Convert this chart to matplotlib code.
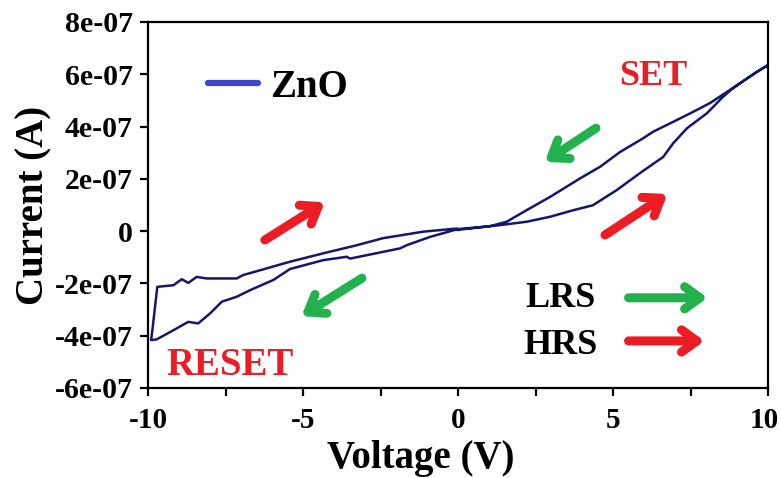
import matplotlib
matplotlib.use("Agg")
import matplotlib.pyplot as plt
from matplotlib.lines import Line2D
from matplotlib.transforms import ScaledTranslation

plt.rcParams['font.family'] = ['Liberation Serif', 'DejaVu Serif']
plt.rcParams['font.weight'] = 'bold'

SCALE = 1e-7
# HRS branch, positive sweep 0 -> 10 V (current in units of 1e-7 A)
v_hrs_pos = [0, 0.6, 1.35, 2.22, 2.97, 3.72, 4.35, 5.12, 5.87, 6.62, 6.94, 7.39, 8.03, 8.55, 8.8, 9.1, 9.65, 10]
i_hrs_pos = [0.05, 0.13, 0.23, 0.36, 0.55, 0.80, 0.99, 1.57, 2.22, 2.84, 3.36, 3.94, 4.51, 5.14, 5.4, 5.66, 6.1, 6.35]
# LRS branch, 10 -> 0 V
v_lrs_pos = [10, 9.65, 9.1, 8.68, 8.13, 7.58, 6.94, 6.29, 5.97, 5.23, 4.58, 3.94, 2.97, 2.21, 1.57, 1.03, 0.5, 0]
i_lrs_pos = [6.35, 6.1, 5.66, 5.33, 4.9, 4.56, 4.18, 3.80, 3.55, 3.03, 2.46, 2.02, 1.31, 0.80, 0.36, 0.19, 0.13, 0.08]
# LRS branch, 0 -> -10 V
v_lrs_neg = [0, -0.9, -1.66, -1.87, -3.48, -3.59, -4.35, -5.42, -5.96, -6.71, -7.14, -7.62, -8.0, -8.38, -8.7, -9.18, -9.72, -9.9]
i_lrs_neg = [0.08, -0.22, -0.54, -0.66, -1.05, -0.98, -1.11, -1.45, -1.87, -2.26, -2.51, -2.7, -3.15, -3.53, -3.47, -3.79, -4.14, -4.17]
# HRS branch, -10 -> 0 V
v_hrs_neg = [-9.9, -9.85, -9.7, -9.18, -8.91, -8.7, -8.43, -8.11, -7.14, -6.93, -5.42, -4.35, -3.27, -2.42, -1.12, -0.04, 0]
i_hrs_neg = [-4.17, -3.7, -2.13, -2.07, -1.84, -1.98, -1.75, -1.81, -1.81, -1.68, -1.17, -0.85, -0.54, -0.27, -0.02, 0.10, 0.05]

x_ticks = [-10, -7.5, -5, -2.5, 0, 2.5, 5, 7.5, 10]
x_tick_labels = ['-10', '', '-5', '', '0', '', '5', '', '10']
y_ticks = [-6, -4, -2, 0, 2, 4, 6, 8]
y_tick_labels = ['-6e-07', '-4e-07', '-2e-07', '0', '2e-07', '4e-07', '6e-07', '8e-07']

curve_color = '#15166e'
legend_color = '#3f44c8'
red = '#ec1c24'
green = '#22b14c'

fig = plt.figure(figsize=(7.81, 4.78), dpi=100)
ax = fig.add_axes([0.1895, 0.1883, 0.7939, 0.7657])

v_all = v_hrs_pos + v_lrs_pos + v_lrs_neg + v_hrs_neg
i_all = [c * SCALE for c in (i_hrs_pos + i_lrs_pos + i_lrs_neg + i_hrs_neg)]
ax.plot(v_all, i_all, color=curve_color, lw=1.8, solid_joinstyle='round')

ax.set_xlim(-10, 10)
ax.set_ylim(-6e-7, 8e-7)
ax.set_xticks(x_ticks)
ax.set_xticklabels(x_tick_labels)
ax.set_yticks([t * SCALE for t in y_ticks])
ax.set_yticklabels(y_tick_labels)
for s in ax.spines.values():
    s.set_linewidth(1.6)
ax.tick_params(direction='out', length=6, width=1.6)
ax.tick_params(axis='y', pad=5, labelsize=21.5)
ax.tick_params(axis='x', pad=8, labelsize=21)
for lab in ax.get_xticklabels() + ax.get_yticklabels():
    lab.set_fontweight('bold')
# keep the last x tick label inside the canvas
last = ax.get_xticklabels()[-1]
last.set_transform(last.get_transform() + ScaledTranslation(-4 / 100, 0, fig.dpi_scale_trans))

ax.set_xlabel('Voltage (V)', fontsize=28, fontweight='bold', labelpad=0)
ax.xaxis.set_label_coords(0.44, -0.143)
ax.set_ylabel('Current (A)', fontsize=28, fontweight='bold', labelpad=2)

handle = Line2D([], [], color=legend_color, lw=4.5, solid_capstyle='round')
leg = ax.legend([handle], ['ZnO'], loc='upper left', bbox_to_anchor=(0.04, 0.968),
                frameon=False, handlelength=1.3, handletextpad=0.3,
                prop={'size': 28, 'weight': 'bold'})

ax.text(6.3, 5.9e-7, 'SET', color=red, fontsize=26, fontweight='bold', ha='center', va='center')
ax.text(-7.35, -5.13e-7, 'RESET', color=red, fontsize=28, fontweight='bold', ha='center', va='center')
ax.text(3.3, -2.56e-7, 'LRS', color='black', fontsize=26, fontweight='bold', ha='center', va='center')
ax.text(3.3, -4.36e-7, 'HRS', color='black', fontsize=26, fontweight='bold', ha='center', va='center')

arrows = [
    ((4.45, 3.94e-7), (2.8, 2.65e-7), green),
    ((-6.23, -0.34e-7), (-4.3, 1.1e-7), red),
    ((4.74, -0.15e-7), (6.75, 1.42e-7), red),
    ((-3.1, -1.8e-7), (-5.05, -3.25e-7), green),
    ((5.5, -2.55e-7), (8.05, -2.55e-7), green),
    ((5.5, -4.2e-7), (7.95, -4.2e-7), red),
]
for tail, head, col in arrows:
    ax.annotate('', xy=head, xytext=tail,
                arrowprops=dict(arrowstyle='->,head_length=0.55,head_width=0.4',
                                color=col, lw=6.5, mutation_scale=20,
                                capstyle='round', joinstyle='round',
                                shrinkA=0, shrinkB=0))

fig.savefig('out.png', dpi=100)
